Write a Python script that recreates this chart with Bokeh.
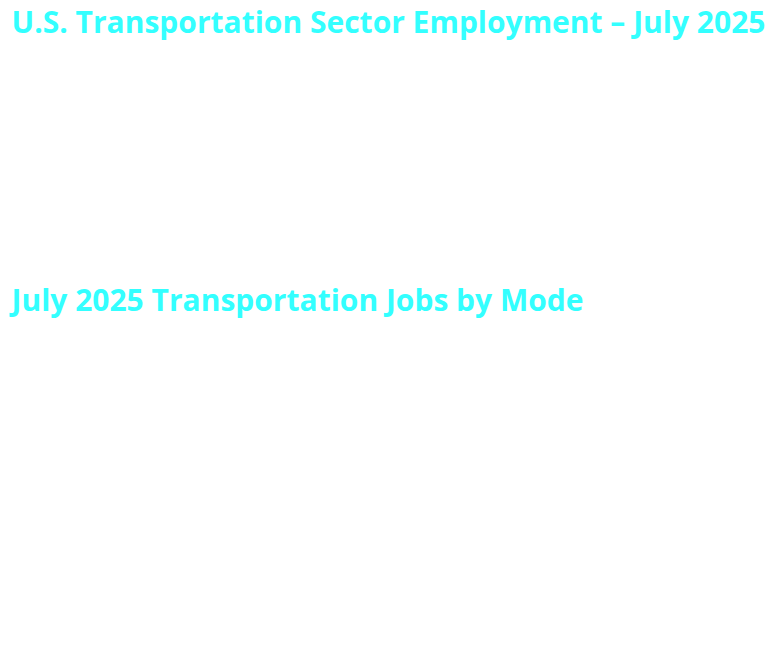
from bokeh.plotting import figure
from bokeh.layouts import column
from bokeh.models import Label
from bokeh.embed import file_html
from bokeh.resources import INLINE

TITLE_TOP = "U.S. Transportation Sector Employment – July 2025"
TITLE_BOTTOM = "July 2025 Transportation Jobs by Mode"
TITLE_COLOR = "#33ffff"


def blank_panel(title, height):
    p = figure(width=766, height=height,
               output_backend="svg", toolbar_location=None,
               x_range=(0, 1), y_range=(0, 1))
    p.axis.visible = False
    p.grid.visible = False
    p.outline_line_color = None
    p.min_border = 0
    # heading drawn as a label so it can sit close to the top edge
    head = Label(x=11, y=height - 21, x_units="screen", y_units="screen",
                 text=title, text_font="Open Sans", text_font_style="bold",
                 text_font_size="30px", text_color=TITLE_COLOR,
                 text_baseline="alphabetic")
    p.add_layout(head)
    return p


if __name__ == '__main__':
    p1 = blank_panel(TITLE_TOP, 278)
    p2 = blank_panel(TITLE_BOTTOM, 370)
    grid = column(p1, p2)
    open("out.html", "w").write(file_html(grid, INLINE))
